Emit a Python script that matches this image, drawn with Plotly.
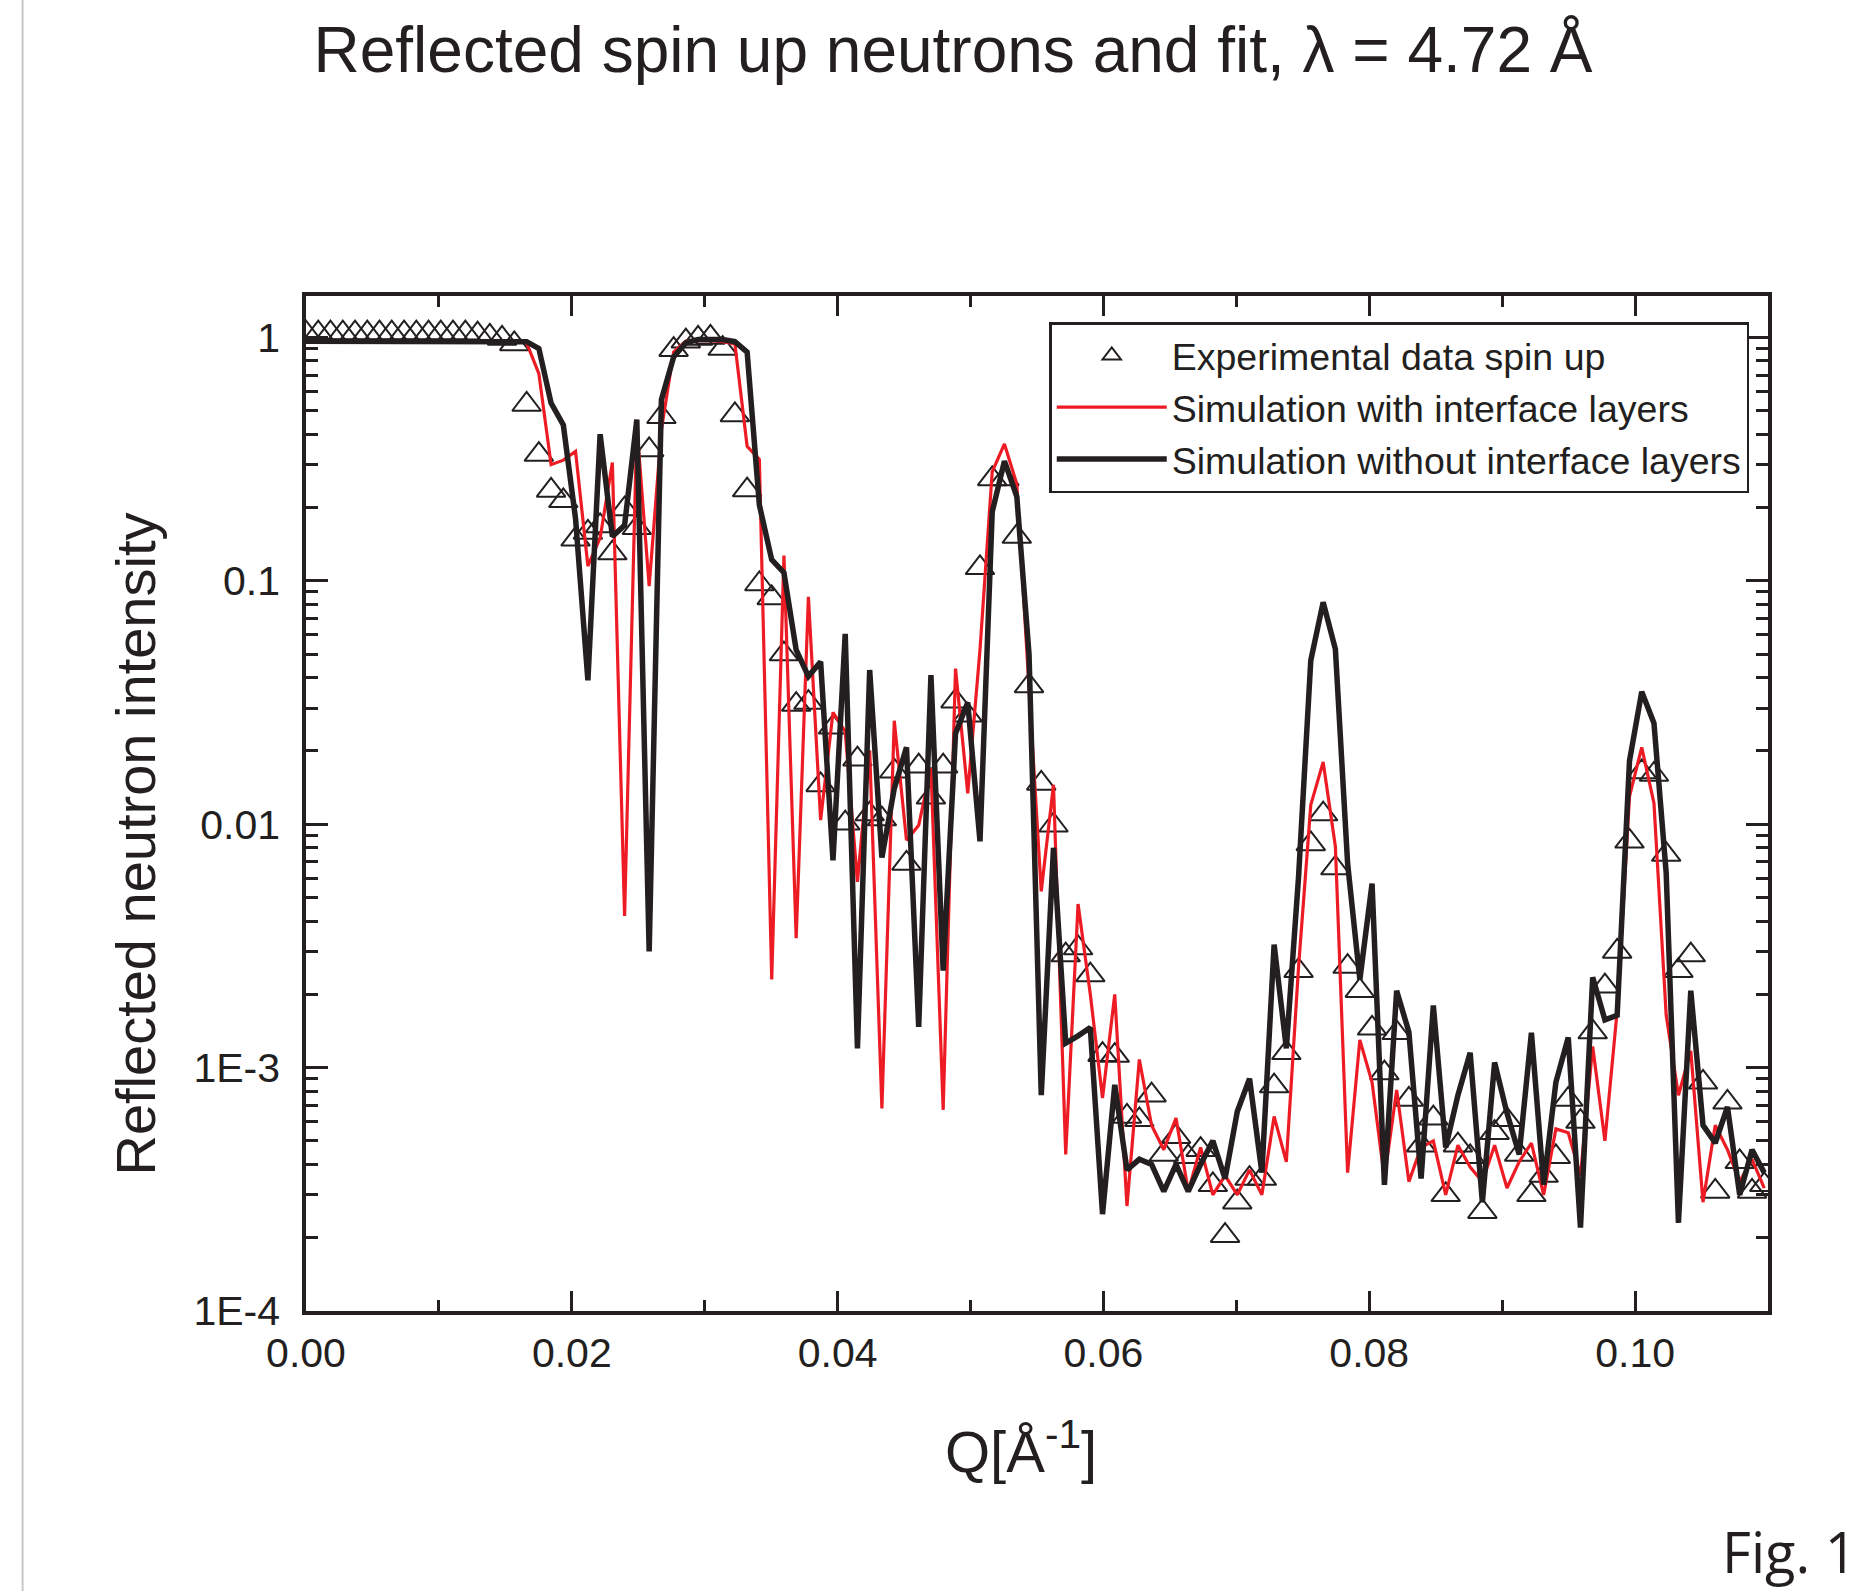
import plotly.graph_objects as go

# Q values [1/Angstrom]
q = [0.0, 0.00092, 0.00184, 0.00277, 0.00369, 0.00461, 0.00553, 0.00645, 0.00738, 0.0083,
     0.00922, 0.01014, 0.01106, 0.01199, 0.01291, 0.01383, 0.01475, 0.01567, 0.0166, 0.01752,
     0.01844, 0.01936, 0.02028, 0.02121, 0.02213, 0.02305, 0.02397, 0.02489, 0.02582, 0.02674,
     0.02766, 0.02858, 0.0295, 0.03043, 0.03135, 0.03227, 0.03319, 0.03411, 0.03504, 0.03596,
     0.03688, 0.0378, 0.03872, 0.03965, 0.04057, 0.04149, 0.04241, 0.04333, 0.04426, 0.04518,
     0.0461, 0.04702, 0.04794, 0.04887, 0.04979, 0.05071, 0.05163, 0.05255, 0.05348, 0.0544,
     0.05532, 0.05624, 0.05716, 0.05809, 0.05901, 0.05993, 0.06085, 0.06177, 0.0627, 0.06362,
     0.06454, 0.06546, 0.06638, 0.06731, 0.06823, 0.06915, 0.07007, 0.07099, 0.07192, 0.07284,
     0.07376, 0.07468, 0.0756, 0.07653, 0.07745, 0.07837, 0.07929, 0.08021, 0.08114, 0.08206,
     0.08298, 0.0839, 0.08482, 0.08575, 0.08667, 0.08759, 0.08851, 0.08943, 0.09036, 0.09128,
     0.0922, 0.09312, 0.09404, 0.09497, 0.09589, 0.09681, 0.09773, 0.09865, 0.09958, 0.1005,
     0.10142, 0.10234, 0.10326, 0.10419, 0.10511, 0.10603, 0.10695, 0.10787, 0.1088, 0.10972]

exp_up = [1.04, 1.04, 1.04, 1.04, 1.04, 1.04, 1.04, 1.04, 1.04, 1.04,
          1.04, 1.04, 1.04, 1.04, 1.03, 1.01, 0.99, 0.94, 0.53, 0.33,
          0.235, 0.213, 0.148, 0.158, 0.168, 0.130, 0.197, 0.165, 0.345, 0.472,
          0.89, 0.965, 0.99, 1.0, 0.9, 0.48, 0.236, 0.097, 0.085, 0.050,
          0.031, 0.0316, 0.0145, 0.025, 0.0101, 0.0185, 0.011, 0.0105, 0.0165, 0.0069,
          0.0173, 0.0129, 0.0173, 0.032, 0.028, 0.113, 0.262, 0.262, 0.152, 0.037,
          0.0147, 0.0099, 0.0029, 0.0031, 0.0024, 0.00113, 0.00112, 0.00063, 0.00061, 0.00077,
          0.00044, 0.00052, 0.00043, 0.00046, 0.00033, 0.000204, 0.00028, 0.00035, 0.00035, 0.00084,
          0.00115, 0.0025, 0.0083, 0.011, 0.0066, 0.0026, 0.00207, 0.00145, 0.00095, 0.00139,
          0.00074, 0.00048, 0.00062, 0.0003, 0.00048, 0.00043, 0.000256, 0.00054, 0.00061, 0.00044,
          0.0003, 0.00036, 0.00043, 0.00074, 0.0006, 0.0014, 0.00216, 0.0030, 0.0085, 0.0164,
          0.016, 0.0075, 0.0025, 0.0029, 0.00087, 0.00031, 0.00072, 0.00041, 0.00031, 0.00033]

sim_with = [0.97, 0.97, 0.97, 0.97, 0.97, 0.97, 0.97, 0.97, 0.97, 0.97,
            0.97, 0.97, 0.97, 0.97, 0.97, 0.97, 0.97, 0.97, 0.95, 0.71,
            0.30, 0.313, 0.34, 0.115, 0.15, 0.306, 0.0042, 0.434, 0.095, 0.417,
            0.87, 0.965, 0.97, 0.97, 0.96, 0.94, 0.357, 0.315, 0.0023, 0.127,
            0.0034, 0.086, 0.0104, 0.0288, 0.024, 0.0058, 0.0201, 0.00068, 0.0266, 0.0086,
            0.0099, 0.017, 0.00067, 0.0436, 0.0134, 0.052, 0.28, 0.365, 0.25, 0.036,
            0.0053, 0.0145, 0.00044, 0.0047, 0.002, 0.00075, 0.002, 0.00027, 0.00108, 0.00058,
            0.00046, 0.00062, 0.00031, 0.00047, 0.0003, 0.00036, 0.0003, 0.00038, 0.0003, 0.00063,
            0.00041, 0.0026, 0.012, 0.018, 0.0081, 0.00037, 0.0013, 0.00087, 0.00035, 0.00081,
            0.00034, 0.00047, 0.0005, 0.0003, 0.00048, 0.00039, 0.00034, 0.00048, 0.00032, 0.00041,
            0.00049, 0.0003, 0.00056, 0.00054, 0.00036, 0.00122, 0.0005, 0.00171, 0.013, 0.0207,
            0.0122, 0.00164, 0.00077, 0.00117, 0.00028, 0.00058, 0.00046, 0.00034, 0.00042, 0.00032]

sim_without = [0.965, 0.965, 0.965, 0.965, 0.965, 0.965, 0.965, 0.965, 0.965, 0.965,
               0.965, 0.965, 0.965, 0.965, 0.965, 0.965, 0.965, 0.965, 0.96, 0.90,
               0.537, 0.437, 0.18, 0.039, 0.40, 0.152, 0.169, 0.46, 0.0030, 0.555,
               0.83, 0.95, 0.98, 0.98, 0.98, 0.96, 0.87, 0.205, 0.122, 0.108,
               0.052, 0.0405, 0.0465, 0.0071, 0.0605, 0.0012, 0.043, 0.0073, 0.014, 0.0207,
               0.00147, 0.041, 0.0025, 0.0236, 0.0316, 0.0085, 0.192, 0.31, 0.222, 0.05,
               0.00077, 0.008, 0.00126, 0.00135, 0.00146, 0.00025, 0.00085, 0.00038, 0.00042, 0.0004,
               0.00031, 0.0004, 0.00031, 0.0004, 0.0005, 0.00035, 0.00066, 0.0009, 0.00037, 0.0032,
               0.0012, 0.0061, 0.0471, 0.0816, 0.0524, 0.0069, 0.0023, 0.0057, 0.00033, 0.00207,
               0.0014, 0.00035, 0.0018, 0.00047, 0.00077, 0.00115, 0.00028, 0.00105, 0.00065, 0.00044,
               0.00139, 0.00033, 0.00087, 0.00133, 0.00022, 0.00235, 0.00157, 0.00164, 0.0182, 0.035,
               0.026, 0.0063, 0.00023, 0.00207, 0.00058, 0.00049, 0.00069, 0.0003, 0.00046, 0.00037]

y_tickvals = [1e-4, 1e-3, 1e-2, 1e-1, 1]
y_ticktext = ["1E-4", "1E-3", "0.01", "0.1", "1"]
x_tickvals = [0.0, 0.02, 0.04, 0.06, 0.08, 0.10]
x_ticktext = ["0.00", "0.02", "0.04", "0.06", "0.08", "0.10"]

DARK = "#231f20"
RED = "#ed1c24"
FONT = "Liberation Sans, Arial, sans-serif"

W, H = 1857, 1591
L, R, T, B = 305.5, 1768.0, 296.0, 1311.0


def px_x(v):
    return (v - L) / (R - L)


def px_y(v):
    return (B - v) / (B - T)


fig = go.Figure()
fig.add_trace(go.Scatter(
    x=q, y=exp_up, mode="markers", name="Experimental data spin up",
    marker=dict(symbol="triangle-up-open", size=25, color=DARK, line=dict(width=2, color=DARK)),
))
fig.add_trace(go.Scatter(
    x=q, y=sim_with, mode="lines", name="Simulation with interface layers",
    line=dict(color=RED, width=3.2),
))
fig.add_trace(go.Scatter(
    x=q, y=sim_without, mode="lines", name="Simulation without interface layers",
    line=dict(color=DARK, width=5.5),
))

minor_y = [m * 10 ** e for e in range(-4, 1) for m in range(2, 10)]

axis_common = dict(
    showline=True, linewidth=3.5, linecolor=DARK, mirror="allticks",
    ticks="inside", tickwidth=3, tickcolor=DARK, showgrid=False, zeroline=False,
    tickfont=dict(family=FONT, size=41, color=DARK),
)

fig.update_xaxes(
    range=[0, 0.11], tickvals=x_tickvals, ticktext=x_ticktext, ticklen=20,
    ticklabelstandoff=3,
    minor=dict(ticks="inside", ticklen=11, tickwidth=3, tickcolor=DARK, dtick=0.01, tick0=0, showgrid=False),
    **axis_common,
)
fig.update_yaxes(
    type="log", range=[-4, 0.17], tickvals=y_tickvals, ticktext=y_ticktext, ticklen=22,
    ticklabelstandoff=14,
    minor=dict(ticks="inside", ticklen=12, tickwidth=3, tickcolor=DARK, tickvals=minor_y, showgrid=False),
    **axis_common,
)

fig.update_layout(
    width=W, height=H,
    margin=dict(l=L, r=W - R, t=T, b=H - B, autoexpand=False),
    paper_bgcolor="white", plot_bgcolor="white",
    title=dict(text="Reflected spin up neutrons and fit, λ = 4.72 Å",
               font=dict(family=FONT, size=64, color=DARK),
               x=953 / W, xanchor="center", y=1 - 50 / H, yanchor="middle", xref="container", yref="container"),
    legend=dict(
        x=px_x(1049), y=px_y(322), xanchor="left", yanchor="top",
        bgcolor="white", bordercolor=DARK, borderwidth=2.5,
        font=dict(family=FONT, size=37.5, color=DARK), itemwidth=110, tracegroupgap=0,
    ),
    showlegend=True,
)

# axis titles placed as in the reference
fig.add_annotation(text="Reflected neutron intensity", xref="paper", yref="paper",
                   x=px_x(134), y=px_y(844), xanchor="center", yanchor="middle", textangle=-90,
                   showarrow=False, font=dict(family=FONT, size=56, color=DARK))
fig.add_annotation(text="Q[Å<sup>-1</sup>]", xref="paper", yref="paper",
                   x=px_x(1021), y=px_y(1447), xanchor="center", yanchor="middle",
                   showarrow=False, font=dict(family=FONT, size=58, color=DARK))

# thin grey page-edge line at the left
fig.add_shape(type="line", xref="paper", yref="paper",
              x0=px_x(22), x1=px_x(22), y0=px_y(H), y1=px_y(0),
              line=dict(color="#c8c8c8", width=2))

fig.add_annotation(text="Fig. 1", xref="paper", yref="paper",
                   x=px_x(1720), y=px_y(1551), xanchor="left", yanchor="middle",
                   showarrow=False, font=dict(family="Open Sans, sans-serif", size=56, color=DARK))

fig.write_html("out.html")
